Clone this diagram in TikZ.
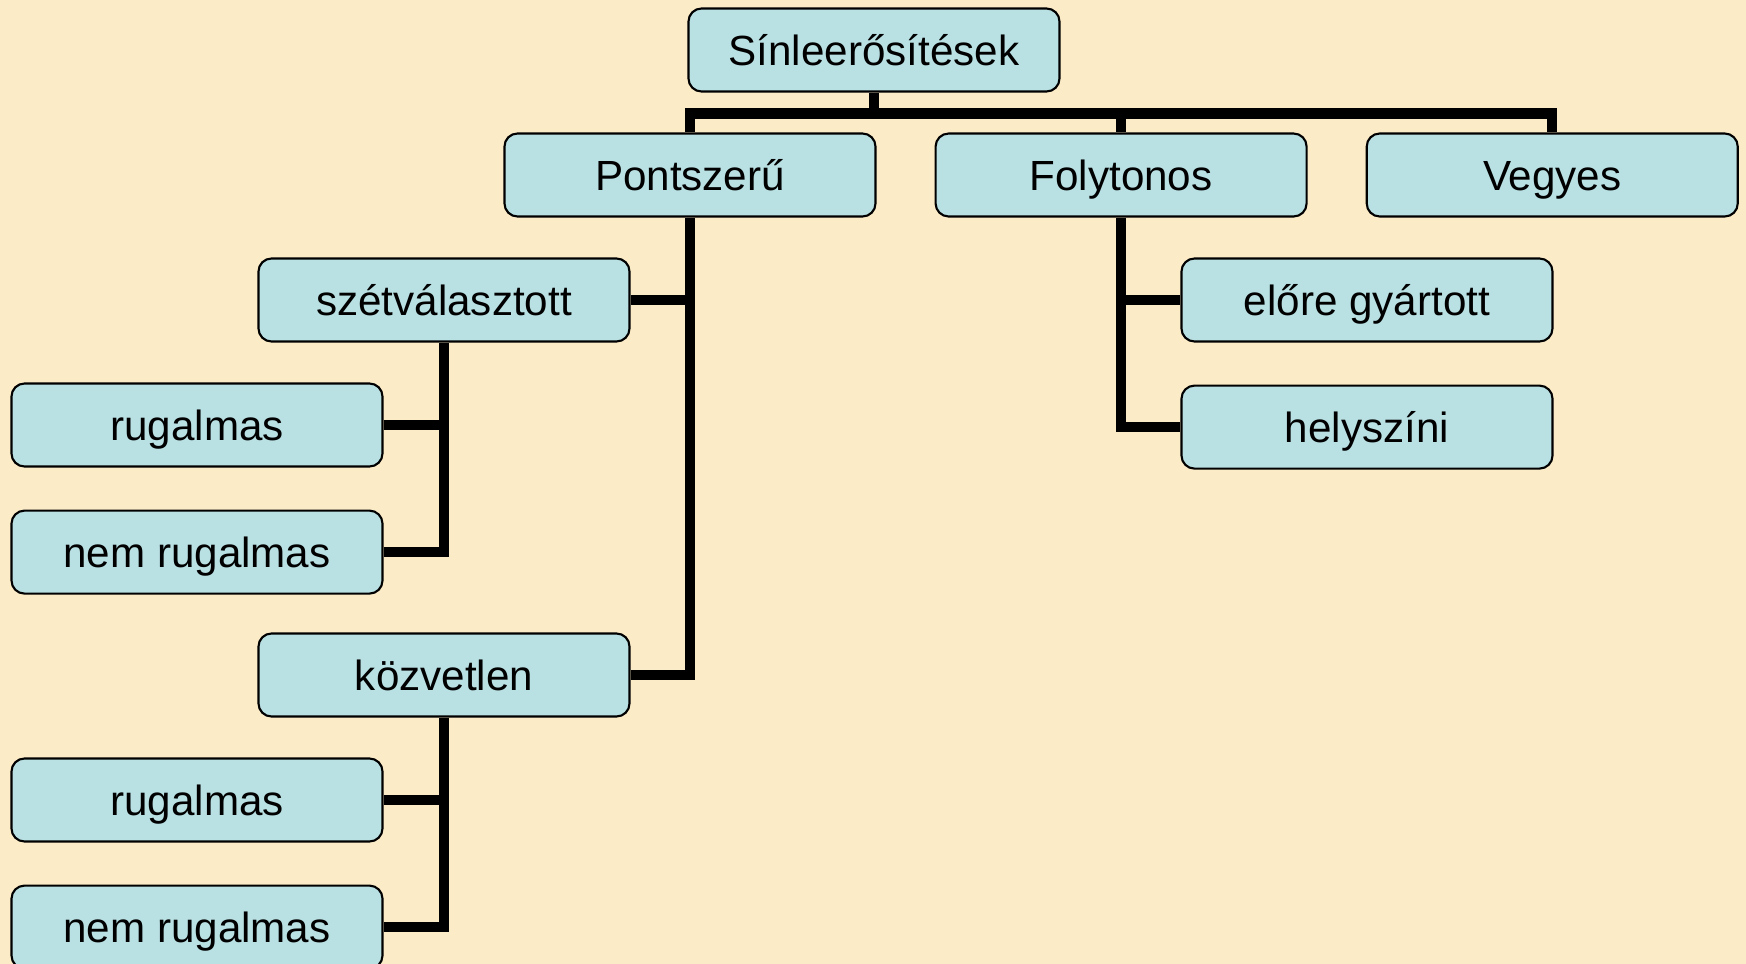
\documentclass[tikz,border=0pt]{standalone}
\usepackage{fontspec}
\setmainfont{Liberation Sans}
\usepackage{tikz}
\usetikzlibrary{positioning,calc}

\definecolor{parchment}{RGB}{251,235,198}
\definecolor{boxblue}{RGB}{185,224,227}

\tikzset{
  kind/.style={draw=black, line width=0.6pt, fill=boxblue, rounded corners=1.3mm,
    minimum width=3.71cm, minimum height=0.83cm, inner sep=0pt,
    text height=0.86em, text depth=0pt,
    font=\fontsize{12}{14}\selectfont},
  bus/.style={line width=1.05mm, draw=black, line join=miter}
}

\begin{document}
\begin{tikzpicture}
        % background and page size
        \fill[parchment] (0,0) rectangle (17.46,-9.64);
        \useasboundingbox (0,0) rectangle (17.46,-9.64);

        % top
        \node[kind] (root) at (8.74,-0.50) {Sínleerősítések};
        \node[kind] (pont) at (6.90,-1.75) {Pontszerű};
        \node[kind, right=0.58cm of pont] (folyt) {Folytonos};
        \node[kind, right=0.58cm of folyt] (vegyes) {Vegyes};

        % pontszeru ag
        \node[kind] (szet) at (4.44,-3.00) {szétválasztott};
        \node[kind] (rug1) at (1.97,-4.25) {rugalmas};
        \node[kind, below=0.42cm of rug1] (nrug1) {nem rugalmas};
        \node[kind] (kozv) at (4.44,-6.75) {közvetlen};
        \node[kind] (rug2) at (1.97,-8.00) {rugalmas};
        \node[kind, below=0.42cm of rug2] (nrug2) {nem rugalmas};

        % folytonos ag
        \node[kind] (elore) at (13.67,-3.00) {előre gyártott};
        \node[kind, below=0.42cm of elore] (hely) {helyszíni};

        % connectors
        \coordinate (top) at ($(root.south)+(0,-0.21)$);
        \draw[bus] (root.south) -- (top);
        \draw[bus] (pont.north) |- (top) -| (vegyes.north);
        \draw[bus] (top -| folyt.north) -- (folyt.north);

        \draw[bus] (pont.south) |- (kozv.east);
        \draw[bus] (pont.south |- szet.east) -- (szet.east);

        \draw[bus] (szet.south) |- (nrug1.east);
        \draw[bus] (szet.south |- rug1.east) -- (rug1.east);
        \draw[bus] (kozv.south) |- (nrug2.east);
        \draw[bus] (kozv.south |- rug2.east) -- (rug2.east);

        \draw[bus] (folyt.south) |- (hely.west);
        \draw[bus] (folyt.south |- elore.west) -- (elore.west);
\end{tikzpicture}
\end{document}
